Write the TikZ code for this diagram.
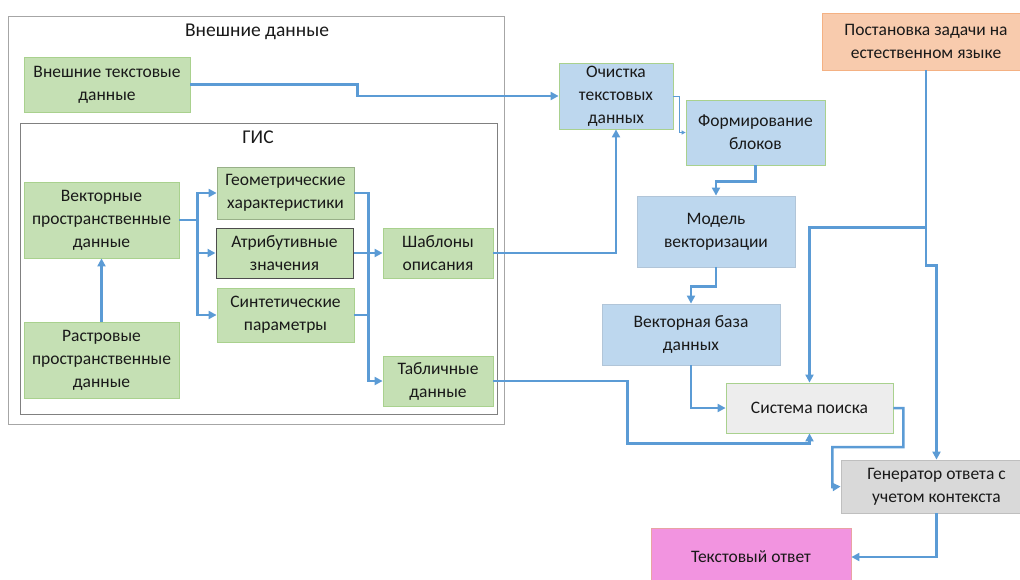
\documentclass[tikz,border=0pt]{standalone}
\usepackage{fontspec}
\setmainfont{Carlito}
\usetikzlibrary{arrows.meta}
\definecolor{gfill}{HTML}{C5E0B4}
\definecolor{gline}{HTML}{A9D18E}
\definecolor{bfill}{HTML}{BDD7EE}
\definecolor{lnc}{HTML}{5B9BD5}
\definecolor{pfill}{HTML}{F8CBAD}
\definecolor{pline}{HTML}{F4B183}
\definecolor{sfill}{HTML}{EDEDED}
\definecolor{genfill}{HTML}{D9D9D9}
\definecolor{genline}{HTML}{BFBFBF}
\definecolor{afill}{HTML}{F294E0}
\definecolor{aline}{HTML}{E8A3A3}
\begin{document}
\begin{tikzpicture}[x=1pt,y=-1pt,
  every node/.style={font=\fontsize{17.5}{23}\selectfont, align=center, inner sep=0pt, text=black!90},
  title/.style={font=\fontsize{19.5}{23}\selectfont},
  box/.style={draw, line width=0.8pt, rectangle},
  gbox/.style={box, fill=gfill, draw=gline},
  bbox/.style={box, fill=bfill, draw=gline},
  arr/.style={draw=lnc, line width=2.5pt, -{Triangle[length=8pt,width=8pt]}},
  thinarr/.style={draw=lnc, line width=1pt, -{Triangle[length=4pt,width=4pt]}},
  frame/.style={draw=gray!70, line width=0.8pt}]
\useasboundingbox (0,0) rectangle (1020,579);
% frames
\draw[frame] (8,16) rectangle (504,424);
\node[title] (tout) at (257,32) {Внешние данные};
\draw[frame, draw=gray] (20,123) rectangle (497,414);
\node[title] (tgis) at (258,137) {ГИС};
% nodes
\node[gbox, minimum width=166pt, minimum height=55pt] (ext) at (107,84.5) {Внешние текстовые\\данные};
\node[gbox, minimum width=155pt, minimum height=76pt] (vec) at (101.5,220) {Векторные\\пространственные\\данные};
\node[gbox, minimum width=155pt, minimum height=76pt] (rast) at (101.5,360) {Растровые\\пространственные\\данные};
\node[gbox, draw=gray!40!gline, minimum width=137pt, minimum height=52pt] (geom) at (285.5,193) {Геометрические\\характеристики};
\node[gbox, draw=black!70, line width=1pt, minimum width=137pt, minimum height=50pt] (attr) at (284.5,253) {Атрибутивные\\значения};
\node[gbox, minimum width=137pt, minimum height=54pt] (synth) at (285.5,315) {Синтетические\\параметры};
\node[gbox, minimum width=110pt, minimum height=50pt] (tmpl) at (438,253) {Шаблоны\\описания};
\node[gbox, minimum width=110pt, minimum height=50pt] (tab) at (438,381) {Табличные\\данные};
\node[bbox, minimum width=114pt, minimum height=66pt] (clean) at (616,96) {Очистка\\текстовых\\данных};
\node[bbox, minimum width=139pt, minimum height=65pt] (form) at (755.5,132.5) {Формирование\\блоков};
\node[bbox, draw=bfill!80!gray, minimum width=158pt, minimum height=71pt] (model) at (716,231.5) {Модель\\векторизации};
\node[bbox, draw=bfill!80!gray, minimum width=178pt, minimum height=61pt] (vdb) at (691,334.5) {Векторная база\\данных};
\node[box, fill=sfill, draw=gline, minimum width=167pt, minimum height=50pt] (search) at (809.5,408) {Система поиска};
\node[box, fill=pfill, draw=pline, minimum width=208pt, minimum height=57pt] (task) at (926,41.5) {Постановка задачи на\\естественном языке};
\node[box, fill=genfill, draw=genline, minimum width=191pt, minimum height=53pt] (gen) at (936.5,486.5) {Генератор ответа с\\учетом контекста};
\node[box, fill=afill, draw=aline, minimum width=200pt, minimum height=58pt] (ans) at (751,557) {Текстовый ответ};
% connectors
\draw[arr] (rast.north) -- (vec.south);
\draw[arr] (vec.east) -- ++(18,0) coordinate (vs) |- (geom.west);
\draw[arr] (vs) |- (attr.west);
\draw[arr] (vs) |- (synth.west);
\draw[draw=lnc, line width=2.5pt] (geom.east) -- ++(14,0) coordinate (gs) -- (gs |- synth.east);
\draw[draw=lnc, line width=2.5pt] (synth.east) -- (gs |- synth.east);
\draw[arr] (gs |- synth.east) |- (tab.west);
\draw[arr] (attr.east) -- (tmpl.west);
\draw[arr] (tmpl.east) -| (clean.south);
\draw[arr] (ext.east) -- ++(167,0) |- (clean.west);
\draw[thinarr] (clean.east) -- ++(6,0) |- (form.west);
\draw[arr] (form.south) -- ++(0,16) -| (model.north);
\draw[arr] (model.south) -- ++(0,19) -| (vdb.north);
\draw[arr] (vdb.south) |- (search.west);
\draw[arr] (tab.east) -- ++(134,0) |- ([yshift=-10pt]search.south) -- (search.south);
\coordinate (tb) at ([yshift=-157pt]task.south);
\draw[arr] (task.south) -- ++(0,195) -| (gen.north);
\draw[arr] (tb) -| (search.north);
\draw[arr] (search.east) -- ++(10,0) -- ++(0,39) -| ++(-71,40) -- (gen.west);
\draw[arr] (gen.south) |- (ans.east);
\end{tikzpicture}
\end{document}
